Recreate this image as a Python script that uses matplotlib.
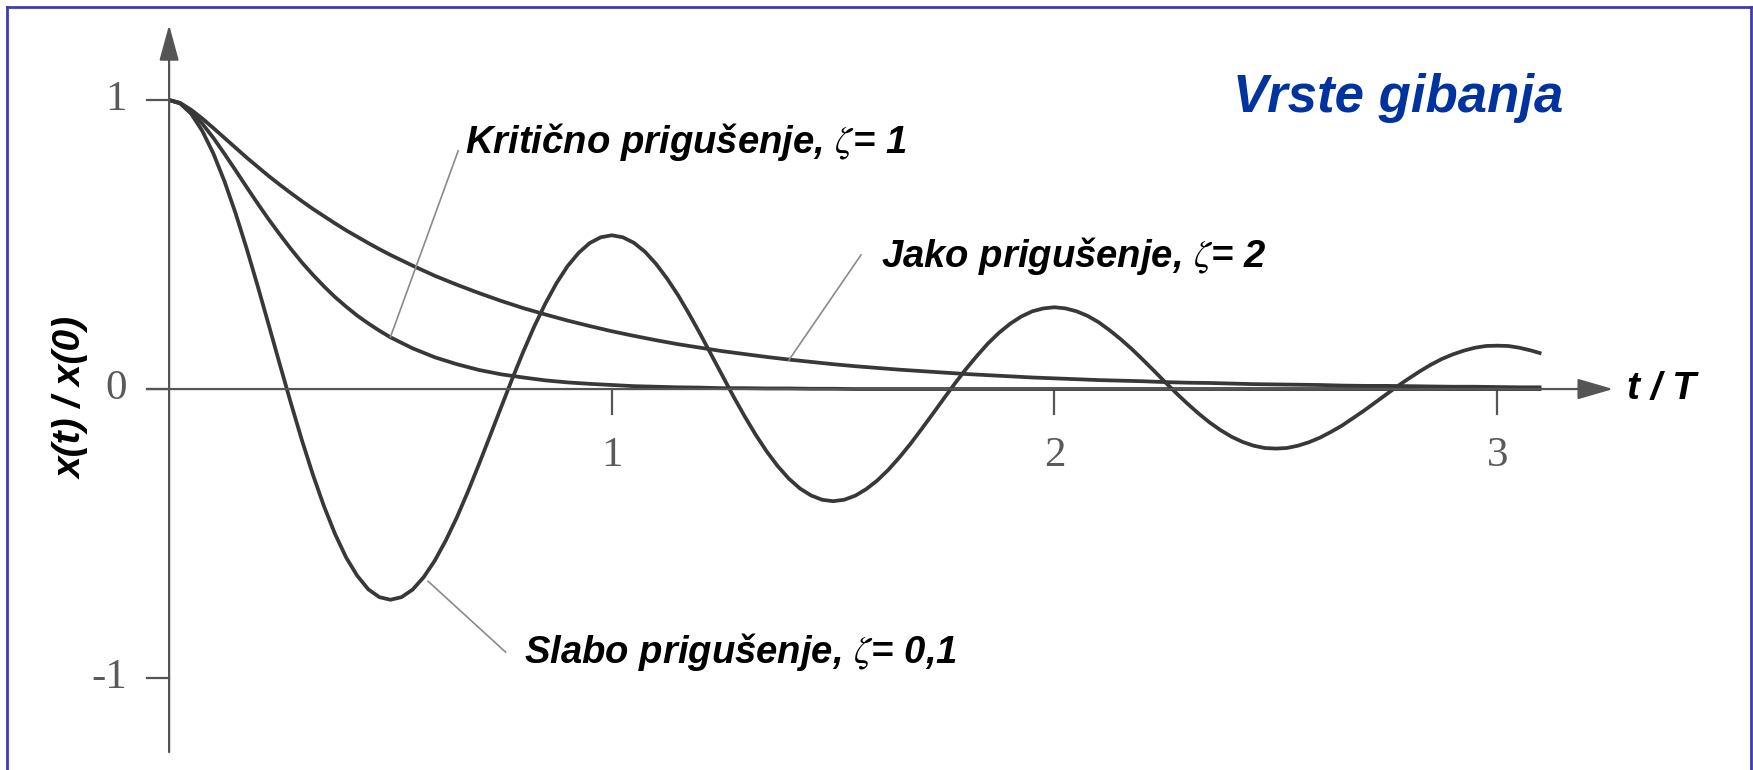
import matplotlib
matplotlib.use('Agg')
import matplotlib.pyplot as plt
from matplotlib.lines import Line2D

plt.rcParams['mathtext.fontset'] = 'stix'

# t / T sample points for the weakly damped curve
t_slabo = [0.000, 0.025, 0.050, 0.075, 0.100, 0.125, 0.150, 0.175, 0.200, 0.225,
           0.250, 0.275, 0.300, 0.325, 0.350, 0.375, 0.400, 0.425, 0.450, 0.475,
           0.500, 0.525, 0.550, 0.575, 0.600, 0.625, 0.650, 0.675, 0.700, 0.725,
           0.750, 0.775, 0.800, 0.825, 0.850, 0.875, 0.900, 0.925, 0.950, 0.975,
           1.000, 1.025, 1.050, 1.075, 1.100, 1.125, 1.150, 1.175, 1.200, 1.225,
           1.250, 1.275, 1.300, 1.325, 1.350, 1.375, 1.400, 1.425, 1.450, 1.475,
           1.500, 1.525, 1.550, 1.575, 1.600, 1.625, 1.650, 1.675, 1.700, 1.725,
           1.750, 1.775, 1.800, 1.825, 1.850, 1.875, 1.900, 1.925, 1.950, 1.975,
           2.000, 2.025, 2.050, 2.075, 2.100, 2.125, 2.150, 2.175, 2.200, 2.225,
           2.250, 2.275, 2.300, 2.325, 2.350, 2.375, 2.400, 2.425, 2.450, 2.475,
           2.500, 2.525, 2.550, 2.575, 2.600, 2.625, 2.650, 2.675, 2.700, 2.725,
           2.750, 2.775, 2.800, 2.825, 2.850, 2.875, 2.900, 2.925, 2.950, 2.975,
           3.000, 3.025, 3.050, 3.075, 3.100]

# slabo prigusenje, zeta = 0.1
x_slabo = [1.000, 0.988, 0.952, 0.893, 0.815, 0.719, 0.609, 0.487, 0.357, 0.222,
           0.086, -0.048, -0.177, -0.297, -0.406, -0.502, -0.583, -0.646, -0.693, -0.720,
           -0.729, -0.720, -0.694, -0.651, -0.594, -0.524, -0.444, -0.355, -0.260, -0.162,
           -0.063, 0.035, 0.129, 0.217, 0.296, 0.366, 0.425, 0.471, 0.505, 0.525,
           0.532, 0.525, 0.506, 0.475, 0.433, 0.382, 0.324, 0.259, 0.190, 0.118,
           0.046, -0.026, -0.094, -0.158, -0.216, -0.267, -0.310, -0.344, -0.368, -0.383,
           -0.388, -0.383, -0.369, -0.346, -0.316, -0.279, -0.236, -0.189, -0.138, -0.086,
           -0.033, 0.019, 0.069, 0.115, 0.158, 0.195, 0.226, 0.251, 0.269, 0.279,
           0.283, 0.279, 0.269, 0.253, 0.231, 0.203, 0.172, 0.138, 0.101, 0.063,
           0.024, -0.014, -0.050, -0.084, -0.115, -0.142, -0.165, -0.183, -0.196, -0.204,
           -0.206, -0.204, -0.196, -0.184, -0.168, -0.148, -0.126, -0.100, -0.074, -0.046,
           -0.018, 0.010, 0.036, 0.061, 0.084, 0.104, 0.120, 0.133, 0.143, 0.149,
           0.150, 0.149, 0.143, 0.134, 0.123]

# t / T sample points for the critically and heavily damped curves
t_prig = [0.000, 0.025, 0.050, 0.075, 0.100, 0.125, 0.150, 0.175, 0.200, 0.225,
          0.250, 0.275, 0.300, 0.325, 0.350, 0.375, 0.400, 0.425, 0.450, 0.475,
          0.50, 0.55, 0.60, 0.65, 0.70, 0.75, 0.80, 0.85, 0.90, 0.95,
          1.00, 1.05, 1.10, 1.15, 1.20, 1.25, 1.30, 1.35, 1.40, 1.45,
          1.50, 1.55, 1.60, 1.65, 1.70, 1.75, 1.80, 1.85, 1.90, 1.95,
          2.00, 2.05, 2.10, 2.15, 2.20, 2.25, 2.30, 2.35, 2.40, 2.45,
          2.50, 2.55, 2.60, 2.65, 2.70, 2.75, 2.80, 2.85, 2.90, 2.95,
          3.00, 3.05, 3.10]

# kriticno prigusenje, zeta = 1
x_kriticno = [1.000, 0.989, 0.960, 0.918, 0.869, 0.814, 0.757, 0.699, 0.642, 0.587,
              0.535, 0.485, 0.438, 0.395, 0.355, 0.318, 0.285, 0.254, 0.227, 0.202,
              0.179, 0.141, 0.110, 0.086, 0.066, 0.051, 0.040, 0.030, 0.023, 0.018,
              0.014, 0.010, 0.008, 0.006, 0.005, 0.003, 0.003, 0.002, 0.002, 0.001,
              0.001, 0.0, 0.0, 0.0, 0.0, 0.0, 0.0, 0.0, 0.0, 0.0,
              0.0, 0.0, 0.0, 0.0, 0.0, 0.0, 0.0, 0.0, 0.0, 0.0,
              0.0, 0.0, 0.0, 0.0, 0.0, 0.0, 0.0, 0.0, 0.0, 0.0,
              0.0, 0.0, 0.0]

# jako prigusenje, zeta = 2
x_jako = [1.000, 0.990, 0.966, 0.936, 0.903, 0.869, 0.835, 0.801, 0.769, 0.737,
          0.707, 0.678, 0.650, 0.623, 0.598, 0.573, 0.549, 0.527, 0.505, 0.484,
          0.464, 0.427, 0.392, 0.361, 0.332, 0.305, 0.280, 0.258, 0.237, 0.218,
          0.200, 0.184, 0.169, 0.155, 0.143, 0.131, 0.121, 0.111, 0.102, 0.094,
          0.086, 0.079, 0.073, 0.067, 0.062, 0.057, 0.052, 0.048, 0.044, 0.040,
          0.037, 0.034, 0.031, 0.029, 0.027, 0.024, 0.022, 0.021, 0.019, 0.017,
          0.016, 0.015, 0.014, 0.012, 0.011, 0.011, 0.010, 0.009, 0.008, 0.008,
          0.007, 0.006, 0.006]

x_ticks = [1, 2, 3]
y_ticks = [1, 0, -1]
y_tick_labels = ['1', '0', '-1']

fig = plt.figure(figsize=(17.53, 7.7), dpi=100)
ax = fig.add_axes([0, 0, 1, 1])
ax.set_xlim(-0.382, 3.578)
ax.set_ylim(-1.318, 1.346)
ax.axis('off')

axis_col = '#555555'
curve_col = '#383838'
lead_col = '#8a8a8a'

# axes with arrows
ax.annotate('', xy=(0, 1.26), xytext=(0, -1.256),
            arrowprops=dict(arrowstyle='-|>,head_length=1.1,head_width=0.3', mutation_scale=20,
                            color=axis_col, lw=1.6, shrinkA=0, shrinkB=0))
ax.annotate('', xy=(3.262, 0), xytext=(-0.05, 0),
            arrowprops=dict(arrowstyle='-|>,head_length=1.1,head_width=0.32', mutation_scale=20,
                            color=axis_col, lw=1.6, shrinkA=0, shrinkB=0))

# ticks
for v, lab in zip(y_ticks, y_tick_labels):
    ax.plot([-0.05, 0], [v, v], color=axis_col, lw=1.6)
    ax.text(-0.095, v, lab, ha='right', va='center', fontsize=31,
            family='Liberation Serif', color='#5a5a5a')
for v in x_ticks:
    ax.plot([v, v], [0, -0.086], color=axis_col, lw=1.6)
    ax.text(v, -0.232, str(v), ha='center', va='center', fontsize=31,
            family='Liberation Serif', color='#5a5a5a')

# curves
ax.plot(t_prig, x_jako, color=curve_col, lw=2.7, solid_capstyle='butt', solid_joinstyle='round')
ax.plot(t_prig, x_kriticno, color=curve_col, lw=2.7, solid_capstyle='butt', solid_joinstyle='round')
ax.plot(t_slabo, x_slabo, color=curve_col, lw=2.7, solid_capstyle='butt', solid_joinstyle='round')

# leader lines
ax.plot([0.653, 0.50], [0.824, 0.18], color=lead_col, lw=1.2)
ax.plot([1.563, 1.40], [0.464, 0.10], color=lead_col, lw=1.2)
ax.plot([0.585, 0.76], [-0.665, -0.91], color=lead_col, lw=1.2)

lab_font = dict(family='Liberation Sans', weight='bold', style='italic', fontsize=27.5, color='black')
ax.text(0.669, 0.817, 'Kritično prigušenje, $\\zeta$= 1', ha='left', va='baseline', **lab_font)
ax.text(1.608, 0.422, 'Jako prigušenje, $\\zeta$= 2', ha='left', va='baseline', **lab_font)
ax.text(0.802, -0.948, 'Slabo prigušenje, $\\zeta$= 0,1', ha='left', va='baseline', **lab_font)

# axis titles
ax.text(3.293, 0, 't / T', ha='left', va='center', family='Liberation Sans',
        weight='bold', style='italic', fontsize=28)
ax.text(-0.219, -0.031, 'x(t) / x(0)', ha='center', va='center', rotation=90,
        family='Liberation Sans', weight='bold', style='italic', fontsize=28)

# title
ax.text(2.403, 0.958, 'Vrste gibanja', ha='left', va='baseline', family='Liberation Sans',
        weight='bold', style='italic', fontsize=38, color='#0033a0')

# blue frame (left, top, right)
frame_col = '#3c3cb0'
fig.add_artist(Line2D([7 / 1753, 7 / 1753], [0, 1 - 7 / 770], color=frame_col, lw=2))
fig.add_artist(Line2D([7 / 1753, 1751 / 1753], [1 - 7 / 770, 1 - 7 / 770], color=frame_col, lw=2))
fig.add_artist(Line2D([1751 / 1753, 1751 / 1753], [0, 1 - 7 / 770], color=frame_col, lw=2))

fig.savefig('out.png', dpi=100)
